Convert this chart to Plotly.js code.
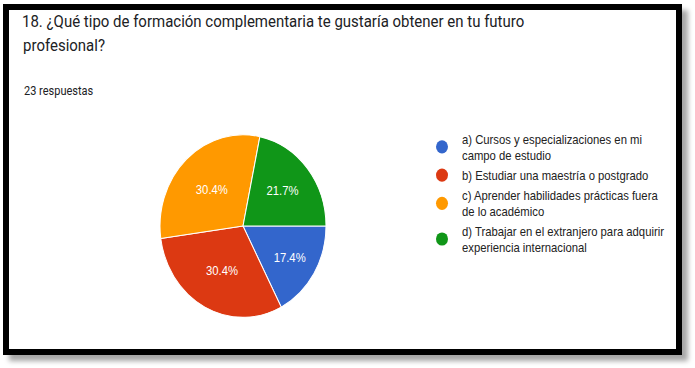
<!DOCTYPE html>
<html>
<head>
<meta charset="utf-8">
<script src="https://cdn.plot.ly/plotly-3.0.1.min.js"></script>
<style>
  html, body { margin: 0; padding: 0; background: #ffffff; }
  #wrap { position: relative; width: 695px; height: 368px; overflow: hidden; background: #fff; }
  #chart { position: absolute; left: 0; top: 0; width: 695px; height: 335px; transform: scaleY(1.1); transform-origin: 0 0; }
  #frame { position: absolute; left: 3px; top: 4px; width: 679px; height: 351px; box-sizing: border-box;
           border: 6px solid #000; box-shadow: 6px 6px 5px rgba(0,0,0,0.35); pointer-events: none; }
</style>
</head>
<body>
<div id="wrap">
  <div id="chart"></div>
  <div id="frame"></div>
</div>
<script>
// ---- data ----
const titleLine1 = '18. ¿Qué tipo de formación complementaria te gustaría obtener en tu futuro';
const titleLine2 = 'profesional?';
const responsesNote = '23 respuestas';
const categories = [
  'a) Cursos y especializaciones en mi<br>campo de estudio',
  'b) Estudiar una maestría o postgrado',
  'c) Aprender habilidades prácticas fuera<br>de lo académico',
  'd) Trabajar en el extranjero para adquirir<br>experiencia internacional'
];
const counts = [4, 7, 7, 5];
const sliceColors = ['#3366cc', '#dc3912', '#ff9900', '#109618'];

// ---- chart ----
const W = 695, H = 335;
const cx = 243, cy = 205.5, r = 83;

const traces = [{
  type: 'pie',
  labels: categories,
  values: counts,
  sort: false,
  direction: 'clockwise',
  rotation: 90,
  marker: { colors: sliceColors, line: { color: '#ffffff', width: 1 } },
  texttemplate: '%{percent:.1%}',
  textposition: 'inside',
  insidetextorientation: 'horizontal',
  textfont: { family: 'Liberation Sans, Arial, sans-serif', size: 11.3, color: '#ffffff' },
  showlegend: false,
  domain: { x: [(cx - r) / W, (cx + r) / W], y: [1 - (cy + r) / H, 1 - (cy - r) / H] }
}];

categories.forEach((c, i) => {
  traces.push({
    type: 'scatter', mode: 'markers', x: [null], y: [null], name: c,
    marker: { color: sliceColors[i], size: 12, symbol: 'circle' },
    showlegend: true, hoverinfo: 'skip'
  });
});

const titleFont = { family: 'Roboto, sans-serif', size: 15, color: '#202124' };

const layout = {
  width: W, height: H,
  margin: { l: 0, r: 0, t: 0, b: 0 },
  paper_bgcolor: 'rgba(0,0,0,0)',
  plot_bgcolor: 'rgba(0,0,0,0)',
  xaxis: { visible: false },
  yaxis: { visible: false },
  title: {
    text: titleLine1,
    x: 22 / W, xref: 'container', xanchor: 'left',
    y: 1 - 19.5 / H, yref: 'container', yanchor: 'middle',
    font: titleFont
  },
  annotations: [{
    text: titleLine2, showarrow: false,
    xref: 'paper', yref: 'paper', x: 22 / W, xanchor: 'left',
    y: 1 - 41 / H, yanchor: 'middle', xshift: -1,
    font: titleFont
  }, {
    text: responsesNote, showarrow: false,
    xref: 'paper', yref: 'paper', x: 22 / W, xanchor: 'left',
    y: 1 - 82.7 / H, yanchor: 'middle',
    font: { family: 'Roboto, sans-serif', size: 11, color: '#202124' }
  }],
  legend: {
    x: 422 / W, xanchor: 'left', y: 1 - 112.3 / H, yanchor: 'top',
    font: { family: 'Liberation Sans, Arial, sans-serif', size: 11.3, color: '#222222' },
    bgcolor: 'rgba(0,0,0,0)', borderwidth: 0
  },
  showlegend: true
};

Plotly.newPlot('chart', traces, layout, { displayModeBar: false, staticPlot: true });
</script>
</body>
</html>
